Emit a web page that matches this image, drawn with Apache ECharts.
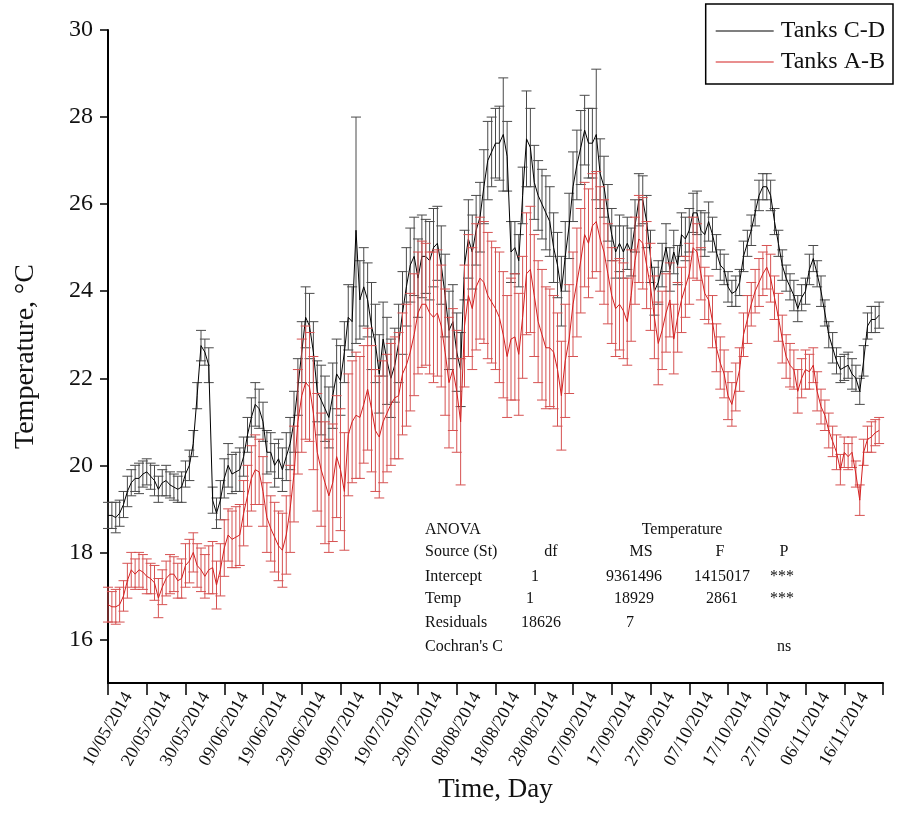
<!DOCTYPE html>
<html>
<head>
<meta charset="utf-8">
<script src="https://cdn.jsdelivr.net/npm/echarts@6/dist/echarts.min.js"></script>
<style>
html,body{margin:0;padding:0;background:#fff;}
#chart{width:897px;height:829px;}
</style>
</head>
<body>
<div id="chart"></div>
<script>
// ---- DATA (daily values, day 0 = 10/05/2014) ----
const xTickLabels = ['10/05/2014','20/05/2014','30/05/2014','09/06/2014','19/06/2014','29/06/2014','09/07/2014','19/07/2014','29/07/2014','08/08/2014','18/08/2014','28/08/2014','07/09/2014','17/09/2014','27/09/2014','07/10/2014','17/10/2014','27/10/2014','06/11/2014','16/11/2014'];
const yTickValues = [16,18,20,22,24,26,28,30];
const seriesNames = ['Tanks C-D','Tanks A-B'];

const tanksCDMean = [
18.85,18.85,18.8,18.9,19.1,19.4,19.6,19.7,19.7,19.8,
19.85,19.75,19.65,19.45,19.6,19.65,19.55,19.5,19.45,19.5,
19.8,20.0,20.5,21.6,22.75,22.6,22.3,19.2,18.9,19.2,
19.7,20.0,19.8,19.85,19.9,20.2,20.7,21.1,21.4,21.3,
21.0,20.3,20.3,20.0,20.15,19.9,20.2,20.5,21.0,21.8,
22.6,23.4,23.2,22.6,21.7,21.5,21.3,21.1,21.6,22.1,
21.95,22.6,23.4,23.3,25.4,23.8,24.1,23.8,23.2,22.8,
22.1,22.9,22.4,22.0,22.3,22.8,23.5,24.1,24.6,24.8,
24.3,24.8,24.8,24.7,25.0,25.1,24.6,23.9,23.1,23.3,
22.6,22.2,24.6,25.2,24.9,25.4,25.7,26.4,27.0,27.2,
27.4,27.4,27.6,27.1,24.9,25.0,24.7,26.2,27.5,27.3,
26.5,26.2,26.0,25.8,25.6,25.0,24.6,24.0,24.8,25.5,
26.4,26.9,27.3,27.7,27.4,27.4,27.6,26.7,26.4,25.8,
25.3,24.9,25.1,24.9,25.1,24.9,25.5,26.1,26.1,25.6,
24.8,24.0,24.2,24.6,25.0,24.5,24.9,24.6,25.3,25.2,
25.4,25.8,25.8,25.4,25.3,25.6,25.3,24.9,24.6,24.5,
24.1,23.95,24.0,24.2,24.8,25.1,25.4,25.8,26.2,26.4,
26.4,26.2,25.6,25.1,24.6,24.3,24.1,23.9,23.6,23.85,
24.0,24.5,24.75,24.4,24.0,23.5,23.0,22.7,22.4,22.2,
22.25,22.3,22.1,22.0,21.7,22.4,23.2,23.35,23.35,23.45
];
const tanksCDErr = [
.3,.3,.35,.3,.3,.35,.3,.3,.35,.3,
.3,.3,.35,.3,.3,.35,.3,.3,.3,.35,
.3,.35,.3,.3,.35,.3,.4,.3,.35,.45,
.45,.5,.45,.45,.5,.45,.4,.45,.5,.45,
.45,.5,.45,.5,.45,.5,.55,.6,.7,.65,
.7,.7,.75,.7,.7,.8,.75,.7,.75,.8,
.8,.7,.75,.8,2.6,.9,.9,.85,1.0,.9,
.9,.85,1.0,.9,.85,.9,.95,.9,.85,.9,
.9,.95,.85,.9,.9,.85,.9,.95,.9,.85,
.9,.85,.8,.9,.85,.8,.8,.85,.9,.8,
.8,.85,1.3,.8,.7,.6,.6,.65,1.1,.9,
.85,.8,.8,.85,.8,.8,.75,.8,.8,.75,
.8,.8,.85,.8,.8,.8,1.5,.8,.7,.65,
.6,.6,.65,.6,.6,.55,.6,.6,.55,.6,
.6,.55,.5,.5,.55,.5,.5,.45,.5,.5,
.5,.45,.5,.45,.5,.45,.4,.4,.35,.35,
.35,.3,.35,.3,.35,.3,.35,.3,.35,.3,
.3,.35,.3,.3,.35,.3,.3,.35,.3,.3,
.3,.35,.3,.3,.35,.3,.3,.35,.3,.3,
.3,.3,.35,.3,.3,.35,.3,.3,.3,.3
];
const tanksABMean = [
16.8,16.75,16.75,16.8,17.0,17.35,17.6,17.5,17.6,17.55,
17.45,17.4,17.3,16.95,17.2,17.4,17.5,17.5,17.35,17.4,
17.7,17.8,18.0,17.7,17.6,17.45,17.6,17.65,17.25,17.6,
18.1,18.4,18.3,18.35,18.4,18.9,19.3,19.7,19.9,19.85,
19.4,18.8,18.55,18.35,18.15,18.05,18.4,19.0,19.8,21.0,
21.6,21.9,21.8,21.2,20.3,19.9,19.6,19.3,19.6,20.2,
19.9,19.4,20.7,21.0,21.15,21.1,21.4,21.75,21.3,20.8,
20.65,21.0,21.2,21.4,21.55,21.6,22.1,22.3,22.6,23.0,
23.5,23.7,23.7,23.5,23.4,23.5,23.2,22.6,21.9,22.2,
21.7,21.0,23.2,23.9,23.6,24.1,24.3,24.2,23.9,23.75,
23.6,23.4,23.0,22.5,22.9,22.95,22.55,23.4,24.4,24.5,
23.9,23.3,23.0,22.7,22.7,22.6,22.2,21.6,22.4,22.9,
23.7,24.2,24.7,25.3,25.1,25.5,25.6,25.2,24.9,24.4,
23.9,23.6,23.7,23.55,23.3,23.9,24.7,25.2,25.1,24.6,
24.1,23.4,22.8,23.1,23.5,23.8,22.9,23.4,23.8,24.1,
24.4,25.0,24.9,24.4,23.95,23.8,23.3,22.7,22.35,22.1,
21.6,21.4,21.8,22.2,23.0,23.35,23.7,24.0,24.2,24.4,
24.55,24.3,23.85,23.4,22.9,22.5,22.3,22.2,21.7,22.0,
22.2,22.15,22.3,21.7,21.35,21.15,20.8,20.55,20.3,19.9,
20.3,20.2,20.3,19.8,19.2,20.3,20.6,20.65,20.75,20.8
];
const tanksABErr = [
.4,.35,.4,.4,.35,.4,.4,.35,.4,.4,
.4,.35,.4,.45,.4,.4,.45,.4,.4,.45,
.5,.5,.45,.5,.5,.5,.55,.6,.55,.6,
.65,.6,.65,.7,.7,.75,.7,.75,.8,.75,
.8,.8,.75,.8,.8,.85,.9,1.0,1.1,1.2,
1.3,1.3,1.25,1.3,1.35,1.3,1.4,1.3,1.35,1.4,
1.4,1.35,1.4,1.4,1.45,1.4,1.35,1.4,1.45,1.4,
1.4,1.4,1.35,1.4,1.4,1.45,1.4,1.4,1.35,1.4,
1.4,1.45,1.4,1.4,1.5,1.45,1.4,1.45,1.5,1.4,
1.4,1.45,1.4,1.4,1.4,1.45,1.4,1.4,1.45,1.4,
1.4,1.5,1.45,1.4,1.4,1.45,1.4,1.4,1.4,1.45,
1.4,1.4,1.5,1.4,1.35,1.3,1.3,1.25,1.3,1.25,
1.2,1.25,1.2,1.2,1.25,1.2,1.15,1.2,1.2,1.15,
1.1,1.1,1.05,1.1,1.0,1.05,1.0,1.0,1.05,1.0,
1.0,.95,.95,.9,.9,.85,.8,.8,.75,.7,
.7,.7,.65,.6,.6,.55,.6,.55,.6,.55,
.55,.5,.55,.5,.5,.55,.5,.5,.55,.5,
.5,.55,.5,.55,.55,.5,.5,.45,.5,.45,
.45,.4,.4,.45,.4,.35,.4,.35,.4,.35,
.35,.3,.35,.3,.35,.3,.3,.35,.3,.3
];

const anovaTitle = ['ANOVA','Temperature'];
const anovaHeader = ['Source (St)','df','MS','F','P'];
const anovaRows = [
  ['Intercept','1','9361496','1415017','***'],
  ['Temp','1','18929','2861','***'],
  ['Residuals','18626','7','',''],
  ["Cochran's C",'','','','ns']
];

// ---- BUILD ----
const FONT = '"Liberation Serif","Times New Roman",serif';
const cdLine = tanksCDMean.map((v,i)=>[i,v]);
const abLine = tanksABMean.map((v,i)=>[i,v]);
const cdBars = tanksCDMean.map((v,i)=>[i, v - tanksCDErr[i], v + tanksCDErr[i]]);
const abBars = tanksABMean.map((v,i)=>[i, v - tanksABErr[i], v + tanksABErr[i]]);

function errRender(color){
  return function(params, api){
    const x = api.value(0);
    const lo = api.coord([x, api.value(1)]);
    const hi = api.coord([x, api.value(2)]);
    const hw = 5;
    const st = {stroke: color, lineWidth: 1};
    return {type:'group', children:[
      {type:'line', shape:{x1:lo[0],y1:lo[1],x2:hi[0],y2:hi[1]}, style:st},
      {type:'line', shape:{x1:lo[0]-hw,y1:lo[1],x2:lo[0]+hw,y2:lo[1]}, style:st},
      {type:'line', shape:{x1:hi[0]-hw,y1:hi[1],x2:hi[0]+hw,y2:hi[1]}, style:st}
    ]};
  };
}

const labelDays = xTickLabels.map((_,i)=>i*10);
const tickDays = labelDays.concat([200]);

// ANOVA text as graphic elements
const tStyle = {fontSize:16, fontFamily:FONT, fill:'#111'};
const graphics = [];
graphics.push({type:'text', x:425, y:530, style:Object.assign({text:anovaTitle[0], textVerticalAlign:'middle'}, tStyle)});
graphics.push({type:'text', x:682, y:530, style:Object.assign({text:anovaTitle[1], textAlign:'center', textVerticalAlign:'middle'}, tStyle)});
const headX = [425, 551, 641, 720, 784];
const bodyX = [425, 535, 634, 722, 782];
const rowY = [577, 599, 623, 647];
anovaHeader.forEach((t,j)=>{
  if(j===0) graphics.push({type:'text', x:headX[j], y:552, style:Object.assign({text:t, textVerticalAlign:'middle'}, tStyle)});
  else graphics.push({type:'text', x:headX[j], y:552, style:Object.assign({text:t, textAlign:'center', textVerticalAlign:'middle'}, tStyle)});
});
anovaRows.forEach((row,r)=>{
  row.forEach((t,j)=>{
    if(!t) return;
    let x = bodyX[j];
    if(r===1 && j===1) x = 530;
    if(r===2 && j===1) x = 541;
    if(r===2 && j===2) x = 630;
    if(r===3 && j===4) x = 784;
    graphics.push({type:'text', x:x, y:rowY[r], style:Object.assign({text:t, textAlign: j===0?'left':'center', textVerticalAlign:'middle'}, tStyle)});
  });
});

const chart = echarts.init(document.getElementById('chart'), null, {renderer:'canvas'});
chart.setOption({
  animation:false,
  backgroundColor:'#fff',
  grid:{left:108, right:14, top:30, bottom:146, containLabel:false},
  legend:{
    data:[{name:seriesNames[0]},{name:seriesNames[1]}],
    orient:'vertical', right:4, top:4,
    itemWidth:58, itemHeight:1.2, itemGap:7,
    icon:'rect',
    padding:[15,8,10,10],
    borderColor:'#000', borderWidth:1.5, borderRadius:0,
    textStyle:{fontSize:24, fontFamily:FONT, color:'#111', padding:[0,0,0,2]}
  },
  xAxis:{
    type:'value', min:0, max:200, interval:10,
    name:'Time, Day', nameLocation:'middle', nameGap:92,
    nameTextStyle:{fontSize:27, fontFamily:FONT, color:'#111'},
    axisLine:{show:true, onZero:false, lineStyle:{color:'#000', width:2}},
    axisTick:{show:true, inside:false, length:12, lineStyle:{color:'#000', width:1.5}, customValues:tickDays},
    axisLabel:{
      customValues:labelDays,
      formatter:function(v){ return xTickLabels[Math.round(v/10)] || ''; },
      rotate:60, align:'center', verticalAlign:'middle', margin:46,
      fontSize:18, fontFamily:FONT, color:'#111'
    },
    splitLine:{show:false}
  },
  yAxis:{
    type:'value', min:15, max:30,
    name:'Temperature, °C', nameLocation:'middle', nameGap:68,
    nameTextStyle:{fontSize:28, fontFamily:FONT, color:'#111'},
    axisLine:{show:true, lineStyle:{color:'#000', width:2}},
    axisTick:{show:true, inside:false, length:8, lineStyle:{color:'#000', width:1.5}, customValues:yTickValues},
    axisLabel:{customValues:yTickValues, fontSize:24, fontFamily:FONT, color:'#111', margin:15},
    splitLine:{show:false}
  },
  series:[
    {type:'custom', name:'cd-err', renderItem:errRender('#4a4a4a'), data:cdBars, encode:{x:0,y:[1,2]}, silent:true, z:1},
    {type:'line', name:seriesNames[0], data:cdLine, showSymbol:false, color:'#000', lineStyle:{color:'#000', width:1}, z:2},
    {type:'custom', name:'ab-err', renderItem:errRender('#d65252'), data:abBars, encode:{x:0,y:[1,2]}, silent:true, z:3},
    {type:'line', name:seriesNames[1], data:abLine, showSymbol:false, color:'#d42020', lineStyle:{color:'#d42020', width:1}, z:4}
  ],
  graphic:graphics
});
</script>
</body>
</html>
